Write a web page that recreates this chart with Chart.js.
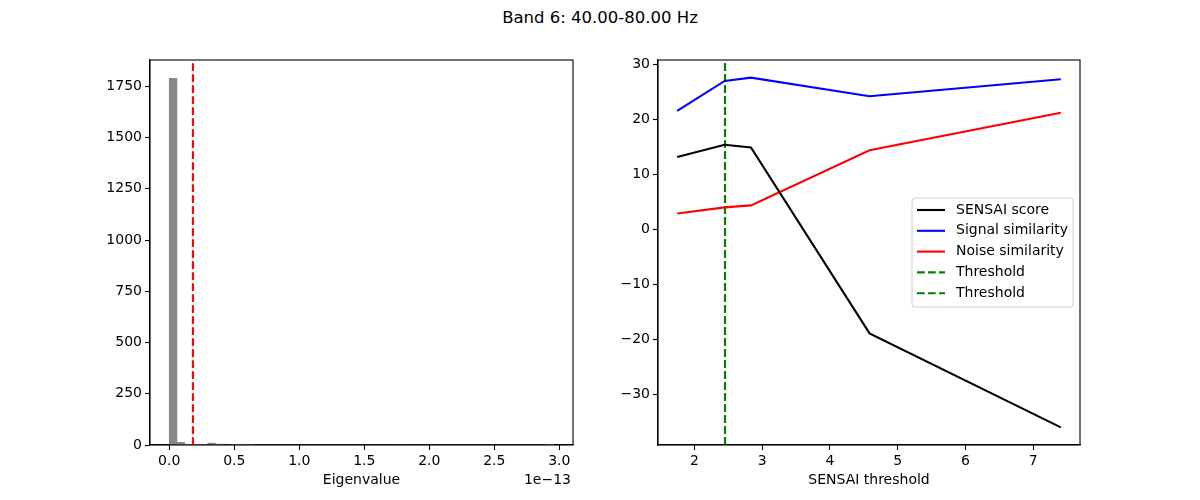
<!DOCTYPE html>
<html>
<head>
<meta charset="utf-8">
<script src="https://cdn.jsdelivr.net/npm/chart.js@4/dist/chart.umd.min.js"></script>
<style>
  body { margin: 0; background: #fff; }
  #fig { position: relative; width: 1200px; height: 500px; background: #fff; }
  #title { position: absolute; left: 0; top: 8px; width: 1200px; text-align: center;
           font: 16.5px "DejaVu Sans", sans-serif; line-height: 20px; color: #000; }
  canvas { position: absolute; top: 0; }
</style>
</head>
<body>
<div id="fig">
  <div id="title">Band 6: 40.00-80.00 Hz</div>
  <canvas id="histChart" width="600" height="500" style="left:0"></canvas>
  <canvas id="sensaiChart" width="600" height="500" style="left:600px"></canvas>
</div>
<script>
// ---- histogram of eigenvalues (units of 1e-13) ----
var binStart = 0;
var binWidth = 0.05914;          // 50 bins up to ~2.957e-13
var binCounts = [1789, 13, 3, 3, 3, 9, 4, 0, 3, 3,
                 3, 0, 0, 0, 0, 0, 0, 0, 0, 0,
                 0, 0, 0, 0, 0, 0, 0, 0, 0, 0,
                 0, 0, 0, 0, 0, 0, 0, 0, 0, 0,
                 0, 0, 0, 0, 0, 0, 0, 0, 0, 1];
var eigenThreshold = 0.182;
var histXTicks = [0, 0.5, 1.0, 1.5, 2.0, 2.5, 3.0];
var histYTicks = [0, 250, 500, 750, 1000, 1250, 1500, 1750];

// ---- SENSAI scan ----
var sensaiThresholds = [1.745, 2.446, 2.834, 4.584, 7.407];
var sensaiScore = [13.15, 15.4, 14.9, -18.9, -36.0];
var signalSimilarity = [21.56, 27.0, 27.6, 24.2, 27.3];
var noiseSimilarity = [2.9, 4.0, 4.36, 14.4, 21.2];
var chosenThreshold = 2.451;
var sensaiXTicks = [2, 3, 4, 5, 6, 7];
var sensaiYTicks = [-30, -20, -10, 0, 10, 20, 30];

var FONT = '"DejaVu Sans", sans-serif';
Chart.defaults.font.family = FONT;
Chart.defaults.font.size = 14;
Chart.defaults.color = '#000';

function pairs(xs, ys) {
    return xs.map(function (x, i) { return {x: x, y: ys[i]}; });
}

function setTicks(list) {
    return function (scale) {
        scale.ticks = list.map(function (v) { return {value: v}; });
    };
}

function fmtMinus(v) {
    return v < 0 ? '\u2212' + Math.abs(v) : String(v);
}

// black box around the plot area (matplotlib spines)
var framePlugin = {
    id: 'frame',
    afterDraw: function (chart) {
        var a = chart.chartArea, ctx = chart.ctx;
        ctx.save();
        ctx.strokeStyle = '#000';
        ctx.lineWidth = 1.1;
        ctx.strokeRect(a.left, a.top, a.right - a.left, a.bottom - a.top);
        ctx.restore();
    }
};

function axisStyle(extra) {
    var base = {
        type: 'linear',
        grid: {offset: false, drawOnChartArea: false, drawTicks: true, tickLength: 5, tickColor: '#000', tickWidth: 1.1},
        border: {display: true, color: '#000', width: 1.1},
        ticks: {padding: 3, color: '#000', font: {size: 14}}
    };
    return Object.assign(base, extra);
}

// ---------------- left: histogram ----------------
var histData = binCounts.map(function (c, i) {
    return {x: binStart + binWidth * (i + 0.5), y: c};
});
var histYMax = 1878.5;

var offsetLabel = {
    id: 'offsetLabel',
    afterDraw: function (chart) {
        var ctx = chart.ctx;
        ctx.save();
        ctx.font = '14px ' + FONT;
        ctx.fillStyle = '#000';
        ctx.textAlign = 'right';
        ctx.textBaseline = 'middle';
        ctx.fillText('1e\u221213', chart.chartArea.right - 2, 480);
        ctx.restore();
    }
};

new Chart(document.getElementById('histChart'), {
    type: 'bar',
    data: {
        datasets: [{
            type: 'bar',
            data: histData,
            backgroundColor: '#878787',
            borderWidth: 0,
            barPercentage: 1,
            categoryPercentage: 1,
            order: 2
        }, {
            type: 'line',
            data: [{x: eigenThreshold, y: 0}, {x: eigenThreshold, y: histYMax}],
            borderColor: 'red',
            borderWidth: 2.1,
            borderDash: [7.7, 3.3],
            pointRadius: 0,
            fill: false,
            order: 1
        }]
    },
    options: {
        responsive: false,
        animation: false,
        layout: {padding: {top: 60, right: 27, left: 0, bottom: 0}},
        plugins: {legend: {display: false}, tooltip: {enabled: false}},
        scales: {
            x: axisStyle({
                min: -0.148, max: 3.105, offset: false,
                afterBuildTicks: setTicks(histXTicks),
                afterFit: function (s) { s.height = 55; },
                ticks: {padding: 3, color: '#000', font: {size: 14}, maxRotation: 0,
                        callback: function (v) { return v.toFixed(1); }},
                title: {display: true, text: 'Eigenvalue', color: '#000', font: {size: 14}, padding: {top: 0, bottom: 11}}
            }),
            y: axisStyle({
                min: 0, max: histYMax,
                afterBuildTicks: setTicks(histYTicks),
                afterFit: function (s) { s.width = 150; },
                ticks: {padding: 3, color: '#000', font: {size: 14},
                        callback: function (v) { return String(v); }}
            })
        }
    },
    plugins: [framePlugin, offsetLabel]
});

// ---------------- right: SENSAI scan ----------------
var sYMin = -39.2, sYMax = 30.8;

var legendPlugin = {
    id: 'boxLegend',
    afterDatasetsDraw: function (chart) {
        var ctx = chart.ctx;
        var sets = chart.data.datasets;
        var x0 = 312, y0 = 198, w = 161, h = 109, rowH = 20.8;
        ctx.save();
        ctx.beginPath();
        ctx.roundRect(x0, y0, w, h, 3);
        ctx.fillStyle = 'rgba(255,255,255,0.8)';
        ctx.fill();
        ctx.strokeStyle = '#d0d0d0';
        ctx.lineWidth = 1;
        ctx.stroke();
        ctx.font = '14px ' + FONT;
        ctx.textBaseline = 'middle';
        ctx.textAlign = 'left';
        sets.forEach(function (ds, i) {
            var y = y0 + 12 + i * rowH;
            ctx.beginPath();
            ctx.setLineDash(ds.borderDash || []);
            ctx.strokeStyle = ds.borderColor;
            ctx.lineWidth = ds.borderWidth;
            ctx.moveTo(x0 + 5, y);
            ctx.lineTo(x0 + 33, y);
            ctx.stroke();
            ctx.setLineDash([]);
            ctx.fillStyle = '#000';
            ctx.fillText(ds.label, x0 + 44, y);
        });
        ctx.restore();
    }
};

function lineSet(label, color, ys) {
    return {
        label: label,
        data: pairs(sensaiThresholds, ys),
        borderColor: color,
        borderWidth: 2.1,
        pointRadius: 0,
        tension: 0,
        fill: false
    };
}

function thresholdSet() {
    return {
        label: 'Threshold',
        data: [{x: chosenThreshold, y: sYMin}, {x: chosenThreshold, y: sYMax}],
        borderColor: 'green',
        borderWidth: 2.1,
        borderDash: [7.7, 3.3],
        pointRadius: 0,
        fill: false
    };
}

new Chart(document.getElementById('sensaiChart'), {
    type: 'line',
    data: {
        datasets: [
            lineSet('SENSAI score', 'black', sensaiScore),
            lineSet('Signal similarity', 'blue', signalSimilarity),
            lineSet('Noise similarity', 'red', noiseSimilarity),
            thresholdSet(),
            thresholdSet()
        ]
    },
    options: {
        responsive: false,
        animation: false,
        layout: {padding: {top: 60, right: 120, left: 0, bottom: 0}},
        plugins: {legend: {display: false}, tooltip: {enabled: false}},
        scales: {
            x: axisStyle({
                min: 1.462, max: 7.69,
                afterBuildTicks: setTicks(sensaiXTicks),
                afterFit: function (s) { s.height = 55; },
                ticks: {padding: 3, color: '#000', font: {size: 14}, maxRotation: 0},
                title: {display: true, text: 'SENSAI threshold', color: '#000', font: {size: 14}, padding: {top: 0, bottom: 11}}
            }),
            y: axisStyle({
                min: sYMin, max: sYMax,
                afterBuildTicks: setTicks(sensaiYTicks),
                afterFit: function (s) { s.width = 58; },
                ticks: {padding: 3, color: '#000', font: {size: 14}, callback: fmtMinus}
            })
        }
    },
    plugins: [framePlugin, legendPlugin]
});
</script>
</body>
</html>
